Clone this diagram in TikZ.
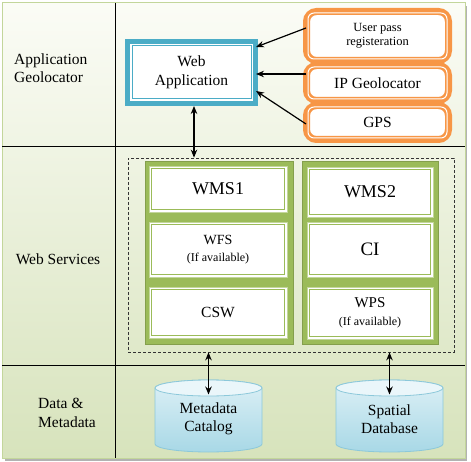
\documentclass[tikz,border=0pt]{standalone}
\usepackage{fontspec}
\setmainfont{Liberation Serif}
\usetikzlibrary{arrows.meta,calc,shapes.geometric}
\definecolor{cyanC}{HTML}{4BACC6}
\definecolor{orangeC}{HTML}{F79646}
\definecolor{greenC}{HTML}{9BBB59}
\definecolor{greenL}{HTML}{C3D69B}
\definecolor{bgTop}{HTML}{FBFCF6}
\definecolor{bgBot}{HTML}{D7E3BC}
\definecolor{cylTop}{HTML}{EAF6FA}
\definecolor{cylA}{HTML}{DDF0F6}
\definecolor{cylB}{HTML}{A8D8E6}
\definecolor{cylE}{HTML}{8CC8DA}
\begin{document}
\begin{tikzpicture}[x=1pt,y=-1pt,
  base/.style={font=\fontsize{15.5}{18.5}\selectfont, align=center, inner sep=0pt},
  arr/.style={line width=1.2pt, -{Stealth[length=8pt,width=6.5pt]}},
  darr/.style={line width=1.2pt, {Stealth[length=8pt,width=6.5pt]}-{Stealth[length=8pt,width=6.5pt]}},
  obox/.style={base, draw=orangeC, line width=7pt, rounded corners=10pt, fill=white, minimum width=142pt},
  cell/.style={base, fill=white, draw=greenL, line width=0.8pt},
  colbox/.style={fill=greenC, draw=greenC!85!black, line width=0.4pt, inner sep=0pt},
  cyl/.style={draw=cylE, line width=0.8pt}
]
\useasboundingbox (0,0) rectangle (471,462);
% background
\fill[black!30] (5,6) rectangle (467,461);
\shade[top color=bgTop, bottom color=bgBot] (2,3) rectangle (465,458);
\draw[greenL, line width=1pt] (2,3) rectangle (465,458);
\draw[black, line width=0.9pt] (115,3) -- (115,458);
\draw[black, line width=0.9pt] (2,146) -- (465,146);
\draw[black, line width=0.9pt] (2,365) -- (465,365);

% row labels
\node[base, align=left, anchor=west] (lapp) at (14,68) {Application\\Geolocator};
\node[base] (lws) at (58,259) {Web Services};
\node[base, align=left, anchor=west] (ldata) at (38,413) {Data \&\\Metadata};

% web services dashed frame
\node[draw=black!80, line width=0.8pt, dash pattern=on 3pt off 2pt, minimum width=326pt, minimum height=194pt, inner sep=0pt] (ws) at (291,255) {};
\node[colbox, minimum width=148pt, minimum height=183pt] (colL) at (219,252.5) {};
\node[colbox, minimum width=136pt, minimum height=183pt] (colR) at (370,252.5) {};

\node[cell, minimum width=138pt, minimum height=46pt, font=\fontsize{18}{20}\selectfont] (wms1) at (218,189) {WMS1};
\node[cell, minimum width=138pt, minimum height=55pt] (wfs) at (218,249.5) {{\fontsize{14}{16}\selectfont WFS}\\[-1pt]{\fontsize{12}{14}\selectfont (If available)}};
\node[cell, minimum width=138pt, minimum height=51pt] (csw) at (218,312.5) {CSW};
\node[cell, minimum width=126pt, minimum height=50pt, font=\fontsize{18}{20}\selectfont] (wms2) at (370,192) {WMS2};
\node[cell, minimum width=126pt, minimum height=55pt, font=\fontsize{19}{21}\selectfont] (ci) at (370,249.5) {CI};
\node[cell, minimum width=126pt, minimum height=52pt] (wps) at (370,313) {{\fontsize{15}{16}\selectfont WPS}\\[-1pt]{\fontsize{12}{14}\selectfont (If available)}};
\foreach \n in {wms1,wfs,csw,wms2,ci,wps}
  \draw[greenC, line width=0.9pt] ([shift={(3pt,-3pt)}]\n.north west) rectangle ([shift={(-3pt,3pt)}]\n.south east);

% web application
\node[base, fill=white, draw=cyanC, line width=5pt, minimum width=128pt, minimum height=62pt, font=\fontsize{15.5}{19}\selectfont] (web) at (191.5,72.5) {Web\\Application};
\draw[cyanC, line width=1pt] ([shift={(7pt,-7pt)}]web.north west) rectangle ([shift={(-7pt,7pt)}]web.south east);

% orange boxes
\node[obox, minimum height=49pt, font=\fontsize{12.5}{14}\selectfont] (user) at (377.5,36) {User pass\\registeration};
\node[obox, minimum height=35pt] (ip) at (377.5,83) {IP Geolocator};
\node[obox, minimum height=34pt] (gps) at (377.5,122.5) {GPS};
\foreach \n in {user,ip,gps}
  \draw[white, line width=1pt, rounded corners=6pt] ([shift={(5pt,-5pt)}]\n.north west) rectangle ([shift={(-5pt,5pt)}]\n.south east);

% arrows to web application
\draw[arr] ([shift={(3pt,8pt)}]user.west) -- ([shift={(-2pt,25.5pt)}]web.east);
\draw[arr] ([shift={(3pt,9pt)}]ip.west) -- ([shift={(-2pt,-1.5pt)}]web.east);
\draw[arr] ([shift={(3pt,-1.5pt)}]gps.west) -- ([shift={(-2pt,-18.5pt)}]web.east);
\draw[darr] ([xshift=2.5pt]web.south) -- ([xshift=2.5pt]web.south |- ws.north);

% cylinders
\foreach \cx in {208.5,389.5} {
  \shade[top color=cylA, bottom color=cylB, cyl] ({\cx-53.5},388) -- ({\cx-53.5},444)
    arc[start angle=180, end angle=360, x radius=53.5pt, y radius=8pt]
    -- ({\cx+53.5},388)
    arc[start angle=0, end angle=180, x radius=53.5pt, y radius=8pt] -- cycle;
  \filldraw[fill=cylTop, cyl] (\cx,388) ellipse [x radius=53.5pt, y radius=8pt];
}
\node[base] (meta) at (208.5,419) {Metadata\\Catalog};
\node[base] (spat) at (389.5,419) {Spatial\\Database};
\coordinate (mtop) at (208.5,394.5);
\coordinate (stop) at (389.5,394.5);
\draw[darr] (ws.south -| mtop) -- (mtop);
\draw[darr] (ws.south -| stop) -- (stop);
\end{tikzpicture}
\end{document}
